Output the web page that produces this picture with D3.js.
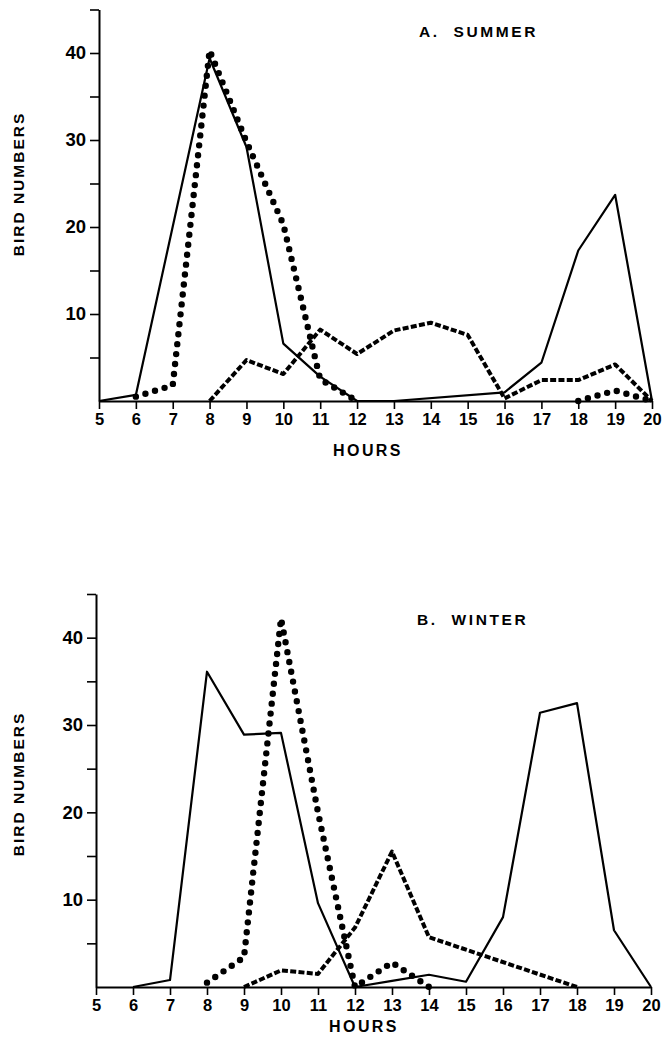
<!DOCTYPE html>
<html>
<head>
<meta charset="utf-8">
<script src="https://cdn.jsdelivr.net/npm/d3@7"></script>
<style>
body { margin: 0; background: #fff; }
text { font-family: "Liberation Sans", Arial, sans-serif; font-weight: bold; fill: #000; }
</style>
</head>
<body>
<div id="chart"></div>
<script>
// hours on the x axis, bird numbers on the y axis
var hourTicks = [5,6,7,8,9,10,11,12,13,14,15,16,17,18,19,20];
var countTicks = [5,10,15,20,25,30,35,40,45];
var countLabels = [10,20,30,40];

// A. summer  [hour, birds]
var summerSolid = [[5,0],[6,0.7],[8,39.4],[9,29.2],[10,6.6],[11,2.8],[12,0],[13,0],[16,1],[17,4.4],[18,17.3],[19,23.7],[20,0]];
var summerDotted = [[6,0.5],[7,1.8],[8,40.3],[9,29.8],[10,20.3],[11,2.5],[12,0]];
var summerDotted2 = [[18,0],[19,1.2],[20,0]];
var summerDashed = [[8,0],[9,4.7],[10,3.1],[11,8.2],[12,5.4],[13,8.1],[14,9],[15,7.6],[16,0.3],[17,2.4],[18,2.4],[19,4.2],[20,0]];

// B. winter  [hour, birds]
var winterSolid = [[6,0],[7,0.8],[8,36.1],[9,28.9],[10,29.1],[11,9.6],[12,0],[13,0.7],[14,1.4],[15,0.6],[16,8],[17,31.4],[18,32.5],[19,6.5],[20,0]];
var winterDotted = [[8,0.5],[9,3.4],[10,42.2],[11,20],[12,0],[13,2.8],[14,0]];
var winterDashed = [[9,0],[10,1.9],[11,1.5],[12,6.8],[13,15.5],[14,5.7],[18,0]];

var svg = d3.select("#chart")
  .append("svg")
  .attr("width", 669)
  .attr("height", 1043);

function panel(p) {
  var x = d3.scaleLinear().domain([5, 20]).range([p.left, p.right]);
  var y = d3.scaleLinear().domain([0, 45]).range([p.base, p.top]);
  var g = svg.append("g");

  var line = d3.line()
    .x(function(d) { return x(d[0]); })
    .y(function(d) { return y(d[1]); });

  function draw(data, kind) {
    var path = g.append("path")
      .attr("d", line(data))
      .attr("fill", "none")
      .attr("stroke", "#000")
      .attr("stroke-linejoin", "round");
    if (kind == "solid") path.attr("stroke-width", 2.2);
    if (kind == "dashed") path.attr("stroke-width", 4).attr("stroke-dasharray", "6,2.3");
    if (kind == "dotted") path.attr("stroke-width", 6.4).attr("stroke-linecap", "round").attr("stroke-dasharray", "0,10");
  }
  p.series.forEach(function(s) { draw(s[0], s[1]); });

  var xAxis = g.append("g")
    .attr("transform", "translate(0," + p.base + ")")
    .call(d3.axisBottom(x).tickValues(hourTicks).tickSize(8).tickSizeOuter(0).tickPadding(4).tickFormat(d3.format("d")));
  xAxis.select(".domain").attr("stroke-width", 2);
  xAxis.selectAll(".tick line").attr("stroke-width", 1.6);
  xAxis.selectAll("text").attr("font-size", 16.5).style("font-family", "Liberation Sans").style("font-weight", "bold");

  var yAxis = g.append("g")
    .attr("transform", "translate(" + p.left + ",0)")
    .call(d3.axisLeft(y).tickValues(countTicks).tickSize(9).tickSizeOuter(0).tickPadding(4)
      .tickFormat(function(d) { return countLabels.indexOf(d) >= 0 ? d : ""; }));
  yAxis.select(".domain").attr("stroke-width", 2);
  yAxis.selectAll(".tick line").attr("stroke-width", 1.6);
  yAxis.selectAll("text").attr("font-size", 18.5).style("font-family", "Liberation Sans").style("font-weight", "bold");

  g.append("text")
    .text(p.title)
    .attr("x", p.titleX)
    .attr("y", p.titleY)
    .attr("font-size", 15.5)
    .attr("letter-spacing", 2.6)
    .style("white-space", "pre");

  g.append("text")
    .text("HOURS")
    .attr("x", p.hoursX)
    .attr("y", p.hoursY)
    .attr("text-anchor", "middle")
    .attr("font-size", 16)
    .attr("letter-spacing", 2.4);

  g.append("text")
    .text("BIRD NUMBERS")
    .attr("transform", "translate(" + 23.5 + "," + p.labelY + ") rotate(-90)")
    .attr("text-anchor", "middle")
    .attr("font-size", 15.5)
    .attr("letter-spacing", 2);
}

panel({
  left: 99, right: 652, top: 9.5, base: 401,
  title: "A.  SUMMER", titleX: 419, titleY: 37,
  hoursX: 368, hoursY: 456, labelY: 184,
  series: [[summerSolid, "solid"], [summerDotted, "dotted"], [summerDotted2, "dotted"], [summerDashed, "dashed"]]
});

panel({
  left: 96, right: 651, top: 594, base: 987,
  title: "B.  WINTER", titleX: 417, titleY: 625,
  hoursX: 364, hoursY: 1032, labelY: 784,
  series: [[winterSolid, "solid"], [winterDotted, "dotted"], [winterDashed, "dashed"]]
});
</script>
</body>
</html>
